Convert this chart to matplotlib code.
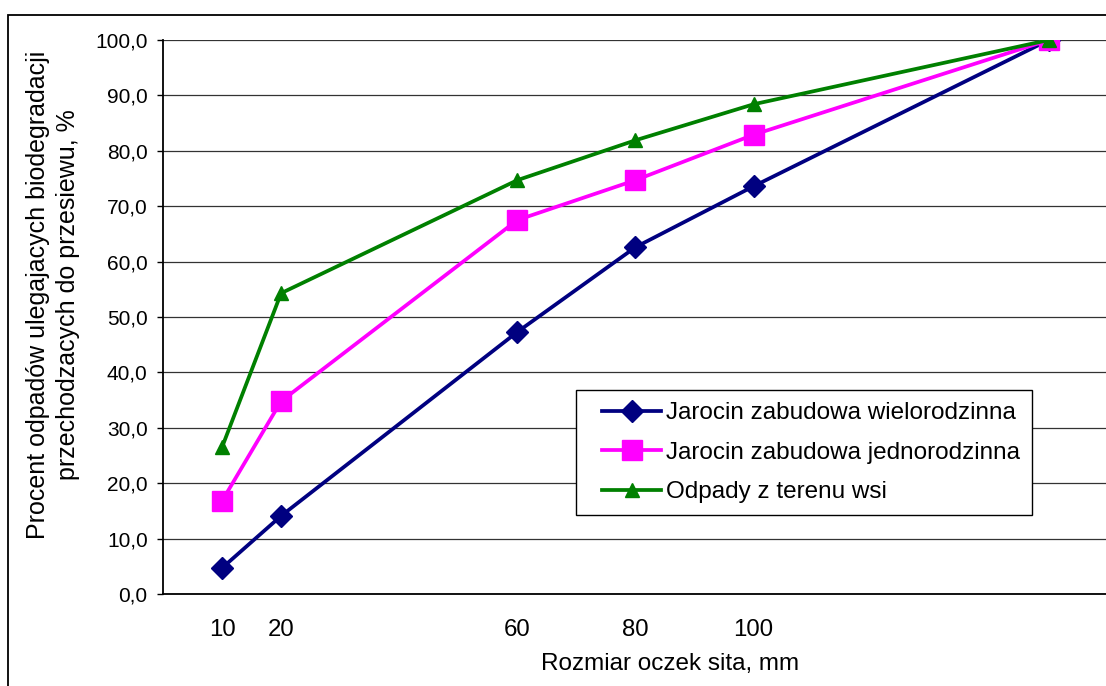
import matplotlib
matplotlib.use("Agg")
import matplotlib.pyplot as plt
from matplotlib.patches import Rectangle
from matplotlib.ticker import FuncFormatter
from matplotlib.legend_handler import HandlerLine2D

plt.rcParams['font.family'] = ['Liberation Sans', 'DejaVu Sans']

sieve = [10, 20, 60, 80, 100, 150]
x_tick_vals = [10, 20, 60, 80, 100]
x_tick_labels = ["10", "20", "60", "80", "100"]
wielorodzinna = [4.7, 14.1, 47.3, 62.6, 73.6, 100.0]
jednorodzinna = [16.8, 34.8, 67.5, 74.7, 82.9, 100.0]
wies = [26.5, 54.3, 74.7, 81.9, 88.4, 100.0]
labels = ["Jarocin zabudowa wielorodzinna",
          "Jarocin zabudowa jednorodzinna",
          "Odpady z terenu wsi"]

W, H = 1106, 686
fig = plt.figure(figsize=(W / 100, H / 100), dpi=100)
L, R, T, B = 163, 1177, 40, 594
ax = fig.add_axes([L / W, 1 - B / H, (R - L) / W, (B - T) / H])

l1, = ax.plot(sieve, wielorodzinna, color='#000080', lw=2.7, marker='D', ms=11,
              label=labels[0], zorder=3)
l2, = ax.plot(sieve, jednorodzinna, color='#FF00FF', lw=2.7, marker='s', ms=14,
              label=labels[1], zorder=4)
l3, = ax.plot(sieve, wies, color='#008000', lw=2.7, marker='^', ms=10,
              label=labels[2], zorder=5)

ax.set_xlim(0, (R - 223) / 5.9 + 10)
ax.set_ylim(0, 100)
ax.set_yticks(range(0, 101, 10))
ax.yaxis.set_major_formatter(FuncFormatter(lambda v, p: f"{v:.1f}".replace('.', ',')))
ax.set_xticks(x_tick_vals)
ax.set_xticklabels(x_tick_labels)
ax.tick_params(axis='x', length=0, pad=18, labelsize=17.3)
ax.tick_params(axis='y', length=4, width=1, direction='out', pad=7, labelsize=15)
ax.grid(axis='y', color='#333333', lw=0.9)
ax.set_axisbelow(True)
for s in ['top', 'right']:
    ax.spines[s].set_visible(False)
ax.spines['left'].set_linewidth(1.3)
ax.spines['bottom'].set_linewidth(1.3)

fig.text(670 / W, 1 - 664 / H, "Rozmiar oczek sita, mm", ha='center', va='center',
         fontsize=17.5)
fig.text(53 / W, 1 - 295 / H,
         "Procent odpadów ulegajacych biodegradacji\nprzechodzacych do przesiewu, %",
         rotation=90, ha='center', va='center', multialignment='center',
         fontsize=18, linespacing=1.3)

hm = {l: HandlerLine2D(xpad=0.57) for l in (l1, l2, l3)}
leg = ax.legend(loc='upper left', bbox_to_anchor=((576 - L) / (R - L), (B - 390) / (B - T)),
                borderaxespad=0, fontsize=17.5, handlelength=3.0, handletextpad=0.2,
                labelspacing=0.72, borderpad=0.5, fancybox=False, framealpha=1,
                edgecolor='black', handler_map=hm)
leg.get_frame().set_linewidth(1.0)

fig.add_artist(Rectangle((8 / W, -0.5), 2, (1 - 15 / H) + 0.5, transform=fig.transFigure,
                         fill=False, lw=1.3, edgecolor='black'))

fig.savefig("out.png", dpi=100)
